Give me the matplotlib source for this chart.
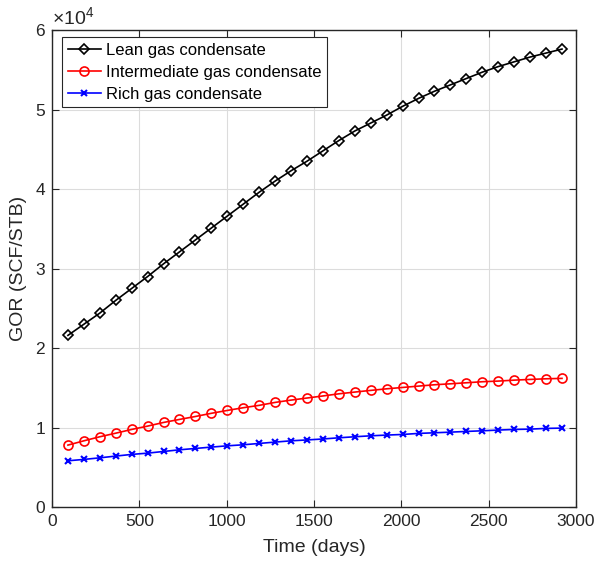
import matplotlib
matplotlib.use("Agg")
import matplotlib.pyplot as plt
from matplotlib.ticker import FuncFormatter, MultipleLocator

plt.rcParams["font.family"] = ["Liberation Sans", "DejaVu Sans"]
plt.rcParams["mathtext.default"] = "regular"

# time steps (days), quarterly samples
days = [91.25 * k for k in range(1, 33)]

lean = [21600, 23000, 24400, 26000, 27500, 29000, 30600, 32100, 33600, 35100,
        36600, 38100, 39600, 41000, 42300, 43500, 44800, 46100, 47300, 48300,
        49300, 50400, 51400, 52300, 53100, 53900, 54700, 55400, 56000, 56600,
        57100, 57600]
intermediate = [7800, 8340, 8850, 9300, 9770, 10190, 10650, 11030, 11400, 11800,
                12160, 12500, 12800, 13170, 13460, 13720, 13980, 14250, 14470, 14680,
                14880, 15050, 15220, 15390, 15510, 15640, 15770, 15850, 15970, 16060,
                16140, 16190]
rich = [5830, 6000, 6200, 6420, 6630, 6790, 7000, 7210, 7380, 7550,
        7710, 7840, 8010, 8180, 8340, 8450, 8570, 8720, 8850, 8970,
        9060, 9140, 9270, 9350, 9430, 9520, 9600, 9690, 9770, 9810,
        9900, 9940]

INK = "#262626"

fig = plt.figure(figsize=(5.95, 5.66), dpi=100)
ax = fig.add_axes([0.0874, 0.104, 0.8806, 0.843])

ax.plot(days, lean, color="black", lw=1.2, marker="D", ms=5.5, mfc="none", mew=1.2,
        label="Lean gas condensate")
ax.plot(days, intermediate, color="red", lw=1.2, marker="o", ms=6.5, mfc="none", mew=1.2,
        label="Intermediate gas condensate")
ax.plot(days, rich, color="blue", lw=1.2, marker="x", ms=4, mew=1.5,
        label="Rich gas condensate")

ax.set_xlim(0, 3000)
ax.set_ylim(0, 60000)
ax.xaxis.set_major_locator(MultipleLocator(500))
ax.yaxis.set_major_locator(MultipleLocator(10000))
ax.yaxis.set_major_formatter(FuncFormatter(lambda v, p: f"{v / 1e4:g}"))

ax.grid(True, color="#dcdcdc", lw=0.8)
ax.set_axisbelow(True)
for s in ax.spines.values():
    s.set_color(INK)
    s.set_linewidth(1.0)
ax.tick_params(direction="in", top=True, right=True, length=5, width=0.8,
               colors=INK, labelsize=12.5, labelcolor=INK, pad=5)

ax.set_xlabel("Time (days)", fontsize=14, color=INK, labelpad=7)
ax.set_ylabel("GOR (SCF/STB)", fontsize=14, color=INK, labelpad=6)
ax.text(0.0, 1.004, r"$\times10^{4}$", transform=ax.transAxes, fontsize=14,
        color=INK, ha="left", va="bottom")

leg = ax.legend(loc="upper left", bbox_to_anchor=(0.019, 0.986), borderaxespad=0,
                fancybox=False, framealpha=1, edgecolor=INK, fontsize=12,
                handlelength=2.0, handletextpad=0.3, labelspacing=0.42,
                borderpad=0.35)
leg.get_frame().set_linewidth(0.8)

fig.savefig("out.png", dpi=100)
